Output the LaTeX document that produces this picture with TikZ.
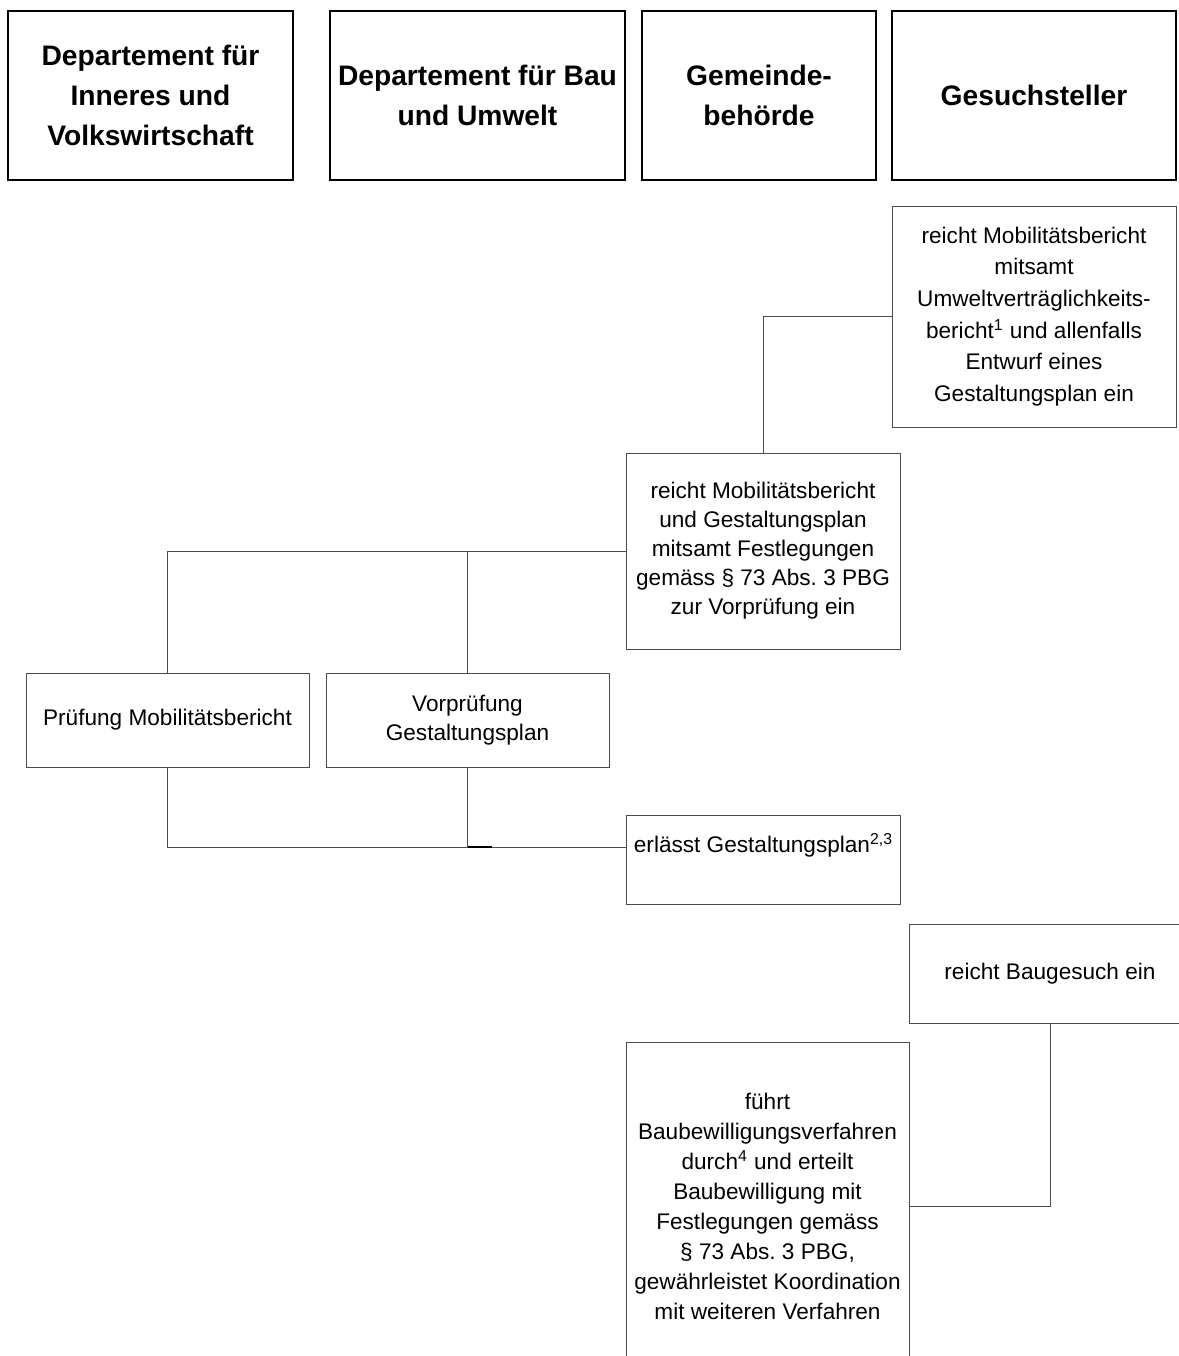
\documentclass[tikz,border=0pt]{standalone}
\usepackage{fontspec}
\setmainfont{Liberation Sans}
\frenchspacing
\definecolor{linie}{gray}{0.3}
\begin{document}
\begin{tikzpicture}[x=0.5pt, y=-0.5pt,
	kopf/.style={draw, line width=1.2pt, align=center, inner sep=0pt, minimum height=84.5pt, font=\fontsize{14.1}{20}\selectfont\bfseries},
	schritt/.style={draw=linie, line width=0.5pt, align=center, inner sep=0pt, font=\fontsize{11.3}{14.5}\selectfont},
	verbindung/.style={draw=linie, line width=0.5pt}]
	\clip (0,0) rectangle (1179,1356);

	% Spaltenkoepfe
	\node[kopf, minimum width=142.5pt] (diuv) at (150.5,95.5) {Departement für\\Inneres und\\Volkswirtschaft};
	\node[kopf, minimum width=147.5pt] (dbu) at (477.5,95.5) {Departement für Bau\\und Umwelt};
	\node[kopf, minimum width=117pt] (gemeinde) at (759,95.5) {Gemeinde-\\behörde};
	\node[kopf, minimum width=142pt] (gesuch) at (1034,95.5) {Gesuchsteller};

	% Ablauf
	\node[schritt, font=\fontsize{11.3}{15.8}\selectfont, minimum width=142pt, minimum height=110.5pt] (einreichen) at (1034,316.5)
		{reicht Mobilitätsbericht\\mitsamt\\Umweltverträglichkeits-\\bericht\textsuperscript{1} und allenfalls\\Entwurf eines\\Gestaltungsplan ein};
	\node[schritt, minimum width=137pt, minimum height=98pt] (vorpruefung) at (763,551)
		{reicht Mobilitätsbericht\\und Gestaltungsplan\\mitsamt Festlegungen\\gemäss § 73 Abs. 3 PBG\\zur Vorprüfung ein};
	\node[schritt, minimum width=141.5pt, minimum height=47pt] (pruefmob) at (167.5,720) {Prüfung Mobilitätsbericht};
	\node[schritt, minimum width=141.5pt, minimum height=47pt] (vorpruefgp) at (467.5,720) {Vorprüfung\\Gestaltungsplan};
	\node[schritt, anchor=north west, minimum width=137pt, text height=18.5pt, text depth=26pt] (erlass) at (626,815)
		{erlässt Gestaltungsplan\textsuperscript{2,3}};
	\node[schritt, minimum width=141pt, minimum height=49.5pt] (baugesuch) at (1050,973.5) {reicht Baugesuch ein};
	\node[schritt, font=\fontsize{11.3}{15}\selectfont, minimum width=141.5pt, minimum height=164pt] (bewilligung) at (767.5,1206)
		{führt\\Baubewilligungsverfahren\\durch\textsuperscript{4} und erteilt\\Baubewilligung mit\\Festlegungen gemäss\\§ 73 Abs. 3 PBG,\\gewährleistet Koordination\\mit weiteren Verfahren};

	% Verbindungen
	\draw[verbindung] (einreichen.west) -| (vorpruefung.north);
	\draw[verbindung] (vorpruefung.west) -| (pruefmob.north);
	\draw[verbindung] (vorpruefung.west) -| (vorpruefgp.north);
	\draw[verbindung] (pruefmob.south) |- (erlass.mid west);
	\draw[verbindung] (vorpruefgp.south) |- (erlass.mid west);
	\draw[line width=1pt] (vorpruefgp.south |- erlass.mid west) -- ++(24,0);
	\draw[verbindung] (baugesuch.south) |- (bewilligung.east);
\end{tikzpicture}
\end{document}
